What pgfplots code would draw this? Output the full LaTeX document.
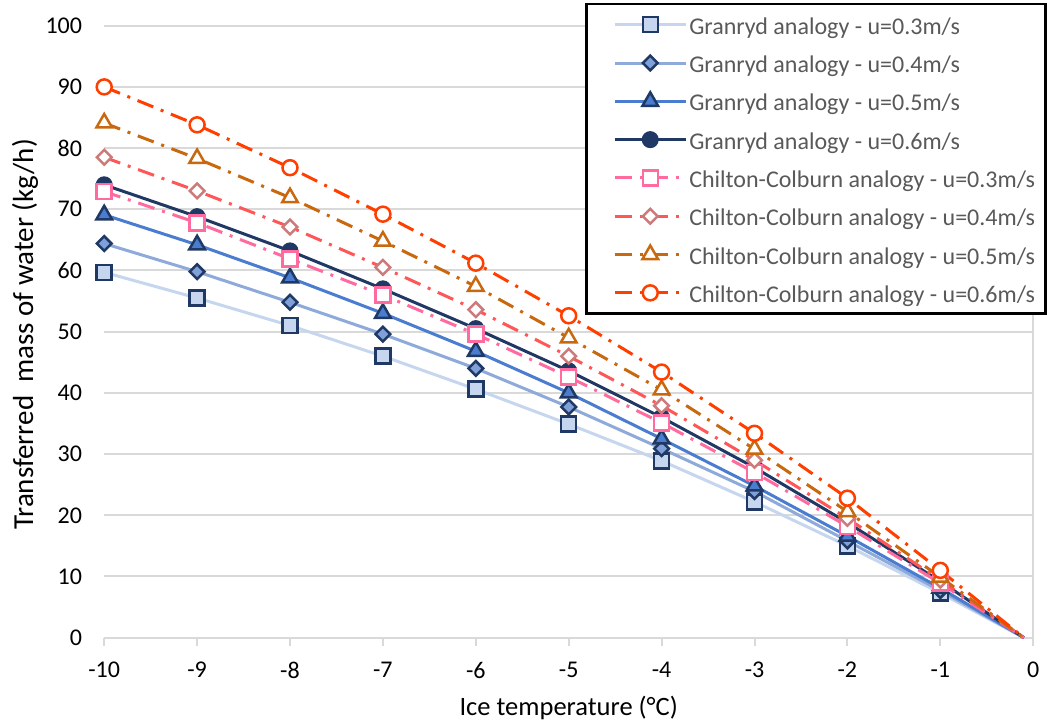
\documentclass[border=0pt]{standalone}
\usepackage{fontspec}
\setmainfont{Carlito}
\usepackage{pgfplots}
\pgfplotsset{compat=1.18}
\definecolor{gA}{HTML}{C5D6EE}
\definecolor{gB}{HTML}{8EAADB}
\definecolor{gBf}{HTML}{7FA0D8}
\definecolor{gC}{HTML}{4A7CCF}
\definecolor{navy}{HTML}{1F3864}
\definecolor{cA}{HTML}{FF6B9E}
\definecolor{cB}{HTML}{FF5757}
\definecolor{cBm}{HTML}{CC7A7A}
\definecolor{cC}{HTML}{C8680F}
\definecolor{cD}{HTML}{FF3F00}
\definecolor{gridc}{HTML}{D9D9D9}
\definecolor{legtext}{HTML}{595959}

\pgfplotsset{
  gr/.style={line width=3pt, solid},
  cc/.style={line width=3pt, dash pattern=on 17pt off 8pt on 3pt off 8pt},
  myleg/.style={legend image code/.code={
      \path (0pt,0pt);
      \draw[mark repeat=2,mark phase=2] plot coordinates {(16.5pt,0pt) (52pt,0pt) (87.5pt,0pt)};
  }},
}

\begin{document}
\begin{tikzpicture}[x=1pt,y=1pt]
\useasboundingbox (-104.2,-84.3) rectangle (942.8,637.7);
\begin{axis}[
  at={(0,0)}, anchor=south west,
  scale only axis, width=929pt, height=612pt,
  xmin=-10, xmax=0, ymin=0, ymax=100,
  xtick={-10,-9,...,0},
  xticklabels={-10,-9,-8,-7,-6,-5,-4,-3,-2,-1,0},
  ytick={0,10,...,100},
  /pgf/number format/assume math mode=true,
  axis line style={draw=none},
  ymajorgrids, major grid style={gridc, line width=2pt},
  extra x ticks={0}, extra x tick labels={},
  extra x tick style={grid=major},
  tick align=outside, xtick pos=bottom, ytick pos=left,
  major tick length=8pt,
  xtick style={gridc, line width=2pt},
  ytick style={draw=none},
  tick label style={font=\fontsize{24}{28}\selectfont, text=black},
  yticklabel style={inner sep=0pt, xshift=-14pt},
  xticklabel style={inner sep=0pt, yshift=-16pt},
  xlabel={Ice temperature (°C)},
  ylabel={Transferred\ \ mass of water (kg/h)},
  xlabel style={font=\fontsize{26.5}{30}\selectfont, text=black,
    at={(axis description cs:0.5,-0.1149)}, anchor=center},
  ylabel style={font=\fontsize{29}{33}\selectfont, text=black,
    at={(axis description cs:-0.0853,0.4954)}, anchor=center},
  legend cell align=left,
  legend style={at={(axis description cs:0.51755,1.03709)}, anchor=north west,
    draw=black, line width=2.5pt, fill=white,
    font=\fontsize{24}{28}\selectfont, text=legtext,
    inner xsep=10.5pt, inner ysep=9pt, row sep=15.3pt,
    nodes={inner sep=0pt, text height=21pt, text depth=2pt},
    /tikz/every odd column/.append style={column sep=2pt}},
  clip=false,
]
% Granryd 0.3
\addplot[gr, color=gA, mark=square*, mark size=7.5pt, myleg,
  mark options={solid, draw=navy, fill=gA, line width=2.5pt}]
  coordinates {(-10,59.7) (-9,55.5) (-8,51.0) (-7,46.0) (-6,40.6) (-5,34.9) (-4,28.9) (-3,22.2) (-2,15.0) (-1,7.3)};
\addlegendentry{Granryd analogy - u=0.3m/s}
\addplot[gr, color=gA, forget plot] coordinates {(-1,7.3) (-0.1,0)};
% Granryd 0.4
\addplot[gr, color=gB, mark=square*, mark size=5.2pt, myleg,
  mark options={solid, draw=navy, fill=gBf, line width=2.5pt, rotate=45}]
  coordinates {(-10,64.4) (-9,59.8) (-8,54.8) (-7,49.6) (-6,44.0) (-5,37.7) (-4,30.9) (-3,23.9) (-2,15.8) (-1,7.7)};
\addlegendentry{Granryd analogy - u=0.4m/s}
\addplot[gr, color=gB, forget plot] coordinates {(-1,7.7) (-0.1,0)};
% Granryd 0.5
\addplot[gr, color=gC, mark=triangle*, mark size=9pt, myleg,
  mark options={solid, draw=navy, fill=gC, line width=2.5pt}]
  coordinates {(-10,69.1) (-9,64.2) (-8,58.8) (-7,53.0) (-6,46.8) (-5,40.0) (-4,32.5) (-3,24.8) (-2,16.6) (-1,8.1)};
\addlegendentry{Granryd analogy - u=0.5m/s}
\addplot[gr, color=gC, forget plot] coordinates {(-1,8.1) (-0.1,0)};
% Granryd 0.6
\addplot[gr, color=navy, mark=*, mark size=8pt, myleg,
  mark options={solid, draw=navy, fill=navy, line width=1pt}]
  coordinates {(-10,74.0) (-9,68.8) (-8,63.2) (-7,57.0) (-6,50.5) (-5,43.6) (-4,36.0) (-3,27.8) (-2,18.8) (-1,9.2)};
\addlegendentry{Granryd analogy - u=0.6m/s}
\addplot[gr, color=navy, forget plot] coordinates {(-1,9.2) (-0.1,0)};
% Chilton 0.3
\addplot[cc, color=cA, mark=square*, mark size=7.5pt, myleg,
  mark options={solid, draw=cA, fill=white, line width=2.5pt}]
  coordinates {(-10,72.9) (-9,67.8) (-8,61.9) (-7,56.0) (-6,49.6) (-5,42.6) (-4,35.1) (-3,27.0) (-2,18.2) (-1,8.9)};
\addlegendentry{Chilton-Colburn analogy - u=0.3m/s}
\addplot[cc, color=cA, forget plot] coordinates {(-1,8.9) (-0.1,0)};
% Chilton 0.4
\addplot[cc, color=cB, mark=square*, mark size=5.2pt, myleg,
  mark options={solid, draw=cBm, fill=white, line width=2.5pt, rotate=45}]
  coordinates {(-10,78.5) (-9,73.0) (-8,67.1) (-7,60.5) (-6,53.6) (-5,46.0) (-4,37.9) (-3,29.0) (-2,19.5) (-1,9.4)};
\addlegendentry{Chilton-Colburn analogy - u=0.4m/s}
\addplot[cc, color=cB, forget plot] coordinates {(-1,9.4) (-0.1,0)};
% Chilton 0.5
\addplot[cc, color=cC, mark=triangle*, mark size=9pt, myleg,
  mark options={solid, draw=cC, fill=white, line width=2.5pt}]
  coordinates {(-10,84.1) (-9,78.3) (-8,71.9) (-7,64.8) (-6,57.4) (-5,49.0) (-4,40.5) (-3,30.8) (-2,20.6) (-1,9.9)};
\addlegendentry{Chilton-Colburn analogy - u=0.5m/s}
\addplot[cc, color=cC, forget plot] coordinates {(-1,9.9) (-0.1,0)};
% Chilton 0.6
\addplot[cc, color=cD, mark=*, mark size=7.5pt, myleg,
  mark options={solid, draw=cD, fill=white, line width=2.5pt}]
  coordinates {(-10,90.0) (-9,83.8) (-8,76.8) (-7,69.2) (-6,61.2) (-5,52.6) (-4,43.4) (-3,33.4) (-2,22.8) (-1,11.0)};
\addlegendentry{Chilton-Colburn analogy - u=0.6m/s}
\addplot[cc, color=cD, forget plot] coordinates {(-1,11.0) (-0.1,0)};
\end{axis}
\end{tikzpicture}
\end{document}
